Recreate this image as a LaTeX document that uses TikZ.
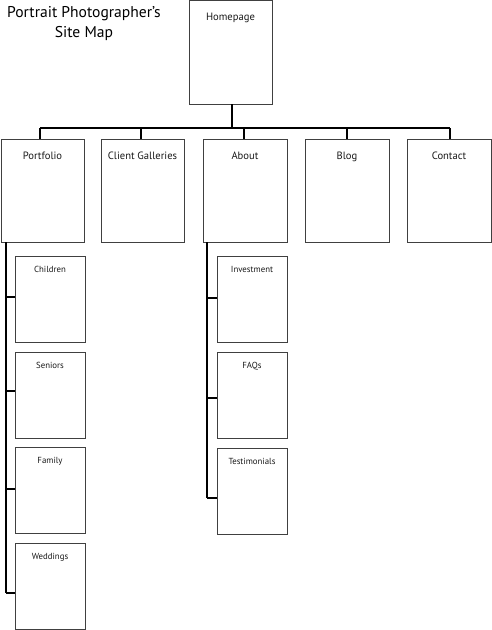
\documentclass[tikz,border=0pt]{standalone}
\usepackage{fontspec}
\setmainfont{PT Sans}
\begin{document}
\begin{tikzpicture}[x=1pt,y=-1pt,
  page/.style={draw=black!75,line width=0.9pt,fill=white},
  lbl/.style={font=\fontsize{10.6}{12}\selectfont,anchor=base,text=black!90},
  slbl/.style={font=\fontsize{8.8}{10}\selectfont,anchor=base,text=black!90},
  link/.style={draw=black,line width=1.6pt}]
\useasboundingbox (0,0) rectangle (492,630);
% title
\node[align=center,font=\fontsize{15.6}{20}\selectfont,anchor=north,inner sep=0pt] (title) at (84,6) {Portrait Photographer’s\\Site Map};
% homepage
\draw[page] (189,0.5) rectangle (272,104);
\coordinate (hp) at (232,104);
\node[lbl] (hplbl) at (230.5,20) {Homepage};
% bus
\coordinate (busL) at (40,128);
\coordinate (busR) at (450,128);
\coordinate (busM) at (232,128);
\draw[link] (hp) -- (busM);
\draw[link] (busL) -- (busR);
% second row
\foreach \nm/\xa/\xb/\sx/\txt in {port/1/84/40/Portfolio, cg/101/184/141/Client Galleries, about/203/287/244/About, blog/305/389/347/Blog, cont/407/491/450/Contact}{
  \coordinate (\nm top) at (\sx,139);
  \draw[link] (\sx,128) -- (\nm top);
  \draw[page] (\xa,139) rectangle (\xb,242);
  \node[lbl] (\nm lbl) at ({(\xa+\xb)/2},159) {\txt};
}
% portfolio children
\coordinate (pvTop) at (6,242);
\coordinate (pvBot) at (6,593);
\draw[link] (pvTop) -- (pvBot);
\foreach \nm/\ya/\yb/\sy/\txt in {ch/256/342/297/Children, sen/352/438/391/Seniors, fam/447/533/489/Family, wed/543/629/593/Weddings}{
  \draw[page] (15,\ya) rectangle (85,\yb);
  \coordinate (\nm l) at (15,\sy);
  \draw[link] (6,\sy) -- (\nm l);
  \node[slbl] (\nm lbl) at (50,\ya+16) {\txt};
}
% about children
\coordinate (avTop) at (207,242);
\coordinate (avBot) at (207,498);
\draw[link] (avTop) -- (avBot);
\foreach \nm/\ya/\yb/\sy/\txt in {inv/256/342/298/Investment, faq/352/438/398/FAQs, test/448/534/498/Testimonials}{
  \draw[page] (217,\ya) rectangle (287,\yb);
  \coordinate (\nm l) at (217,\sy);
  \draw[link] (207,\sy) -- (\nm l);
  \node[slbl] (\nm lbl) at (252,\ya+16) {\txt};
}
\end{tikzpicture}
\end{document}
